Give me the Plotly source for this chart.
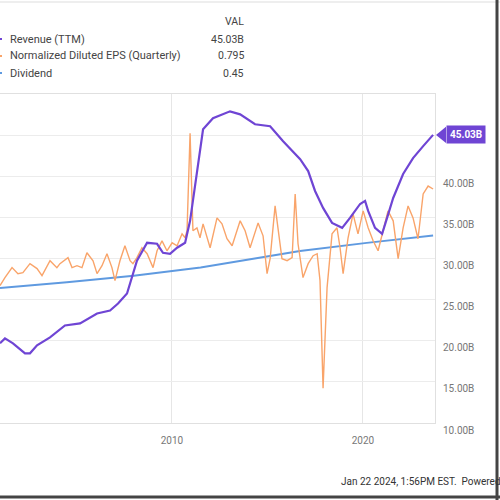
import datetime as dt
import plotly.graph_objects as go

# ---------------- data (decimal years) ----------------
rev_years = [2001.00, 2001.26, 2001.68, 2002.31, 2002.57, 2002.94, 2003.62, 2004.40, 2005.19,
             2006.08, 2006.76, 2007.18, 2007.65, 2007.91, 2008.17, 2008.70, 2009.22, 2009.53,
             2009.90, 2010.27, 2010.69, 2010.95, 2011.31, 2011.63, 2012.15, 2013.04, 2013.57,
             2014.35, 2015.14, 2015.82, 2016.71, 2017.13, 2017.49, 2017.91, 2018.38, 2018.91,
             2019.32, 2019.85, 2020.11, 2020.27, 2020.63, 2021.00, 2021.26, 2021.58, 2022.10,
             2022.62, 2023.15, 2023.67]
revenue = [19.69, 20.29, 19.69, 18.47, 18.47, 19.44, 20.41, 21.86, 22.11,
           23.32, 23.68, 24.53, 25.74, 27.68, 29.73, 31.91, 31.79, 30.70,
           30.58, 31.31, 31.91, 34.58, 40.27, 45.71, 47.05, 47.89, 47.53,
           46.32, 46.08, 44.26, 42.08, 40.63, 38.21, 36.15, 34.33, 33.73,
           34.94, 36.63, 37.00, 35.79, 33.73, 33.00, 34.94, 37.36, 40.27,
           42.20, 43.66, 45.03]

eps_years = [2001.00, 2001.26, 2001.63, 2001.94, 2002.20, 2002.57, 2002.94, 2003.20, 2003.62,
             2003.98, 2004.14, 2004.56, 2004.77, 2005.03, 2005.29, 2005.55, 2005.87, 2006.08,
             2006.34, 2006.60, 2006.86, 2007.02, 2007.28, 2007.54, 2007.81, 2007.96, 2008.17,
             2008.43, 2008.70, 2009.01, 2009.22, 2009.48, 2009.74, 2010.01, 2010.27, 2010.53,
             2010.69, 2010.79, 2010.95, 2011.10, 2011.31, 2011.47, 2011.63, 2012.00, 2012.36,
             2012.62, 2012.88, 2013.15, 2013.57, 2013.83, 2014.09, 2014.51, 2014.77, 2014.98,
             2015.14, 2015.40, 2015.55, 2015.76, 2016.03, 2016.29, 2016.45, 2016.60, 2016.86,
             2017.13, 2017.39, 2017.60, 2017.75, 2017.91, 2018.12, 2018.38, 2018.64, 2018.80,
             2018.96, 2019.22, 2019.48, 2019.74, 2020.01, 2020.27, 2020.53, 2020.79, 2021.05,
             2021.31, 2021.58, 2021.84, 2022.10, 2022.36, 2022.62, 2022.88, 2023.15, 2023.41,
             2023.67]
eps = [26.71, 27.68, 28.89, 28.16, 28.28, 29.37, 28.77, 27.92, 29.73,
       28.89, 29.37, 30.10, 28.89, 29.13, 28.89, 30.70, 29.73, 28.16,
       29.13, 30.58, 28.89, 27.31, 29.73, 31.55, 29.73, 29.37, 30.10,
       31.31, 30.58, 28.89, 30.94, 32.15, 30.94, 31.91, 31.55, 33.00,
       32.52, 33.37, 45.23, 33.37, 33.73, 32.52, 34.21, 31.31, 34.94,
       34.21, 32.40, 31.55, 34.58, 33.37, 31.31, 34.33, 32.76, 28.16,
       29.98, 36.39, 33.73, 29.98, 29.73, 30.10, 37.85, 31.79, 27.68,
       29.37, 30.34, 30.58, 27.31, 14.24, 26.46, 33.00, 33.73, 31.31,
       28.16, 32.52, 35.42, 33.00, 35.79, 33.73, 32.15, 30.94, 33.37,
       35.79, 34.58, 29.98, 33.73, 36.39, 34.94, 32.40, 37.85, 38.81,
       38.45]

div_years = [2001.00, 2004.50, 2008.00, 2011.50, 2016.70, 2020.20, 2023.67]
dividend = [26.40, 27.10, 27.90, 28.90, 30.90, 31.90, 32.80]

y_ticks = [10, 15, 20, 25, 30, 35, 40, 45]
y_tick_labels = ["10.00B", "15.00B", "20.00B", "25.00B", "30.00B", "35.00B", "40.00B", ""]
x_ticks = ["2010-01-01", "2020-01-01"]
x_tick_labels = ["2010", "2020"]

legend_names = ["Revenue (TTM)", "Normalized Diluted EPS (Quarterly)", "Dividend"]
legend_values = ["45.03B", "0.795", "0.45"]
last_label = "45.03B"


def to_date(y):
    yr = int(y)
    frac = y - yr
    start = dt.datetime(yr, 1, 1)
    days = (dt.datetime(yr + 1, 1, 1) - start).days
    return start + dt.timedelta(days=frac * days)


PURPLE = "#6f45d4"
ORANGE = "#f9a46a"
BLUE = "#5f9ae0"

fig = go.Figure()
fig.add_trace(go.Scatter(x=[to_date(v) for v in div_years], y=dividend, mode="lines",
                         line=dict(color=BLUE, width=2), name=legend_names[2]))
fig.add_trace(go.Scatter(x=[to_date(v) for v in eps_years], y=eps, mode="lines",
                         line=dict(color=ORANGE, width=1.4), name=legend_names[1]))
fig.add_trace(go.Scatter(x=[to_date(v) for v in rev_years], y=revenue, mode="lines",
                         line=dict(color=PURPLE, width=2.2), name=legend_names[0]))

# layout geometry (pixels)
W, H = 500, 500
L, R, T, B = 0, 65, 94, 77
PW, PH = W - L - R, H - T - B


def px_x(p):
    return (p - L) / PW


def px_y(p):
    return (H - B - p) / PH


TXT = "#444444"
annots = []
annots.append(dict(text="VAL", x=px_x(246), y=px_y(22), xref="paper", yref="paper",
                   xanchor="right", yanchor="middle", showarrow=False,
                   font=dict(size=10.5, color=TXT, family="Roboto")))
rows_y = [39, 56, 73]
for name, val, yy in zip(legend_names, legend_values, rows_y):
    annots.append(dict(text=name, x=px_x(8), y=px_y(yy), xref="paper", yref="paper",
                       xanchor="left", yanchor="middle", showarrow=False,
                       font=dict(size=11, color=TXT, family="Roboto")))
    annots.append(dict(text=val, x=px_x(246), y=px_y(yy), xref="paper", yref="paper",
                       xanchor="right", yanchor="middle", showarrow=False,
                       font=dict(size=10.5, color=TXT, family="Roboto")))
# end-value flag
annots.append(dict(text="<b>" + last_label + "</b>", x=to_date(rev_years[-1]), y=revenue[-1],
                   xref="x", yref="y", xanchor="left", yanchor="middle", xshift=13,
                   showarrow=False, bgcolor=PURPLE, borderpad=3,
                   font=dict(size=10, color="white", family="Roboto")))
# footer
annots.append(dict(text="Jan 22 2024, 1:56PM EST.  Powered by YCHARTS", x=px_x(339), y=px_y(481),
                   xref="paper", yref="paper", xanchor="left", yanchor="middle",
                   showarrow=False, font=dict(size=10, color="#333333", family="Roboto")))
fig.update_layout(annotations=annots)

shapes = [
    # flag pointer
    dict(type="path", xref="paper", yref="y",
         path=f"M {px_x(436)} {revenue[-1]} L {px_x(446)} {revenue[-1] + 1.0} "
              f"L {px_x(446)} {revenue[-1] - 1.0} Z",
         fillcolor=PURPLE, line=dict(width=0)),
    # legend marker stubs (cut off at left edge)
    dict(type="line", xref="paper", yref="paper", x0=px_x(0), x1=px_x(2),
         y0=px_y(39), y1=px_y(39), line=dict(color=PURPLE, width=2)),
    dict(type="line", xref="paper", yref="paper", x0=px_x(0), x1=px_x(2),
         y0=px_y(56), y1=px_y(56), line=dict(color=ORANGE, width=2)),
    dict(type="line", xref="paper", yref="paper", x0=px_x(0), x1=px_x(2),
         y0=px_y(73), y1=px_y(73), line=dict(color=BLUE, width=2)),
    # frame lines of the screenshot
    dict(type="line", xref="paper", yref="paper", x0=px_x(0), x1=px_x(500),
         y0=px_y(2), y1=px_y(2), line=dict(color="#dddddd", width=1)),
    dict(type="line", xref="paper", yref="paper", x0=px_x(0), x1=px_x(500),
         y0=px_y(497), y1=px_y(497), line=dict(color="#444444", width=3)),
    dict(type="line", xref="paper", yref="paper", x0=px_x(497), x1=px_x(497),
         y0=px_y(0), y1=px_y(500), line=dict(color="#444444", width=3)),
]
fig.update_layout(shapes=shapes)

fig.update_layout(
    width=W, height=H,
    margin=dict(l=L, r=R, t=T, b=B, pad=0),
    paper_bgcolor="white", plot_bgcolor="white",
    showlegend=False,
    font=dict(family="Roboto", size=10, color="#777777"),
    xaxis=dict(type="date", range=[to_date(2001.0), to_date(2023.77)],
               tickvals=x_ticks, ticktext=x_tick_labels,
               showgrid=True, gridcolor="#e6e6e6", gridwidth=1,
               showline=True, linecolor="#e0e0e0", linewidth=1, mirror=True,
               ticks="", ticklabelstandoff=8, zeroline=False,
               tickfont=dict(size=10, color="#777777")),
    yaxis=dict(side="right", range=[10, 50], tickvals=y_ticks, ticktext=y_tick_labels,
               showgrid=True, gridcolor="#ececec", gridwidth=1,
               showline=True, linecolor="#e0e0e0", linewidth=1, mirror=True,
               ticks="", zeroline=False, ticklabelstandoff=5, ticklabelshift=7,
               tickfont=dict(size=10, color="#777777")),
)

fig.write_html("out.html", config={"displayModeBar": False},
               post_script="document.body.style.margin='0';document.body.style.overflow='hidden';")
